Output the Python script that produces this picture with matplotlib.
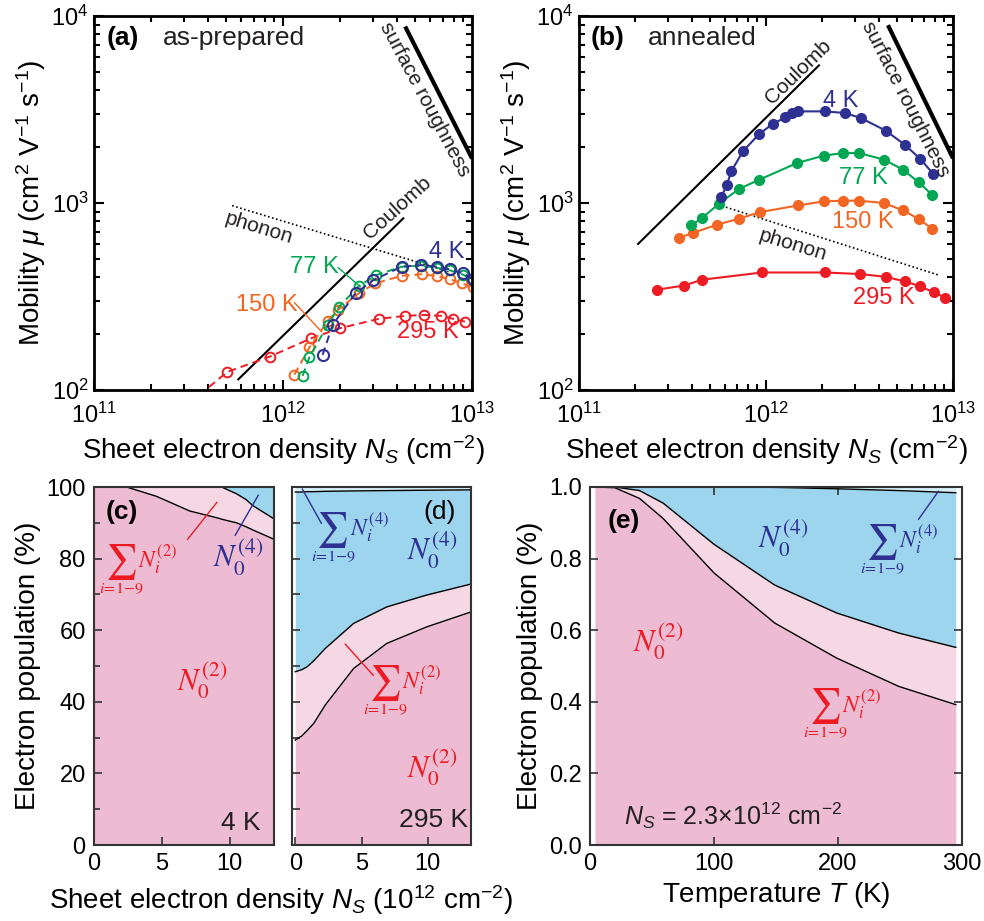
import matplotlib
matplotlib.use('Agg')
import matplotlib.pyplot as plt
import numpy as np
from matplotlib.ticker import LogLocator, MultipleLocator, NullFormatter, FixedLocator, FormatStrFormatter

plt.rcParams['font.family'] = ['Liberation Sans', 'DejaVu Sans']
plt.rcParams['mathtext.fontset'] = 'custom'
plt.rcParams['mathtext.rm'] = 'Liberation Sans'
plt.rcParams['mathtext.it'] = 'Liberation Sans:italic'
plt.rcParams['mathtext.bf'] = 'Liberation Sans:bold'

BLUE = '#2E3192'
GREEN = '#00A651'
ORANGE = '#F26522'
RED = '#ED1C24'
PINK_DARK = '#EDBCD2'
PINK_LIGHT = '#F6D8E4'
SKY = '#9DD5EE'

# ---- (a) as-prepared, mobility vs sheet density
a_n_4k = [1.62e12, 1.83e12, 2.42e12, 3.01e12, 4.24e12, 5.35e12, 6.56e12, 7.67e12, 8.96e12, 1.01e13]
a_mu_4k = [154, 223, 329, 387, 456, 466, 456, 441, 421, 391]
a_n_77k = [1.27e12, 1.38e12, 1.72e12, 1.97e12, 2.52e12, 3.12e12, 4.24e12, 5.35e12, 6.56e12, 7.67e12, 8.96e12, 1.01e13]
a_mu_77k = [119, 150, 222, 277, 360, 412, 456, 462, 450, 436, 414, 388]
a_n_150k = [1.15e12, 1.38e12, 1.73e12, 1.95e12, 2.52e12, 3.08e12, 4.24e12, 5.42e12, 6.56e12, 7.67e12, 8.85e12, 1.01e13]
a_mu_150k = [121, 169, 235, 268, 329, 372, 408, 416, 407, 391, 372, 354]
a_n_295k = [3.2e11, 5.07e11, 8.53e11, 1.41e12, 2.0e12, 3.21e12, 4.41e12, 5.57e12, 6.89e12, 7.98e12, 9.17e12]
a_mu_295k = [85, 125, 151, 189, 214, 240, 249, 252, 249, 240, 232]

a_phonon_n = [5.38e11, 7.51e12]
a_phonon_mu = [968, 430]
a_coulomb_n = [5.8e11, 4.33e12]
a_coulomb_mu = [114, 828]
a_rough_n = [4.48e12, 9.89e12]
a_rough_mu = [8590, 1770]

# ---- (b) annealed
b_n_4k = [5.76e11, 6.19e11, 6.51e11, 7.57e11, 9.21e11, 1.09e12, 1.27e12, 1.38e12, 1.49e12,
          2.06e12, 2.64e12, 3.21e12, 4.36e12, 5.52e12, 6.69e12, 7.82e12]
b_mu_4k = [1077, 1252, 1475, 1905, 2340, 2655, 2870, 3030, 3090,
           3090, 3030, 2850, 2440, 2050, 1720, 1435]
b_n_77k = [3.98e11, 4.56e11, 5.60e11, 7.16e11, 9.21e11, 1.47e12, 2.03e12, 2.58e12, 3.14e12,
           4.27e12, 5.41e12, 6.56e12, 7.73e12]
b_mu_77k = [759, 832, 991, 1188, 1333, 1637, 1791, 1850, 1850, 1707, 1507, 1289, 1107]
b_n_150k = [3.41e11, 4.07e11, 5.48e11, 7.16e11, 9.33e11, 1.49e12, 2.03e12, 2.58e12, 3.14e12,
            4.27e12, 5.41e12, 6.56e12, 7.73e12]
b_mu_150k = [650, 692, 766, 824, 895, 971, 1020, 1029, 1029, 1000, 913, 821, 729]
b_n_295k = [2.62e11, 3.65e11, 4.56e11, 9.53e11, 2.06e12, 3.18e12, 4.36e12, 5.52e12, 6.69e12,
            7.89e12, 9.1e12]
b_mu_295k = [344, 362, 389, 425, 425, 417, 403, 381, 358, 333, 311]

b_phonon_n = [5.53e11, 8.49e12]
b_phonon_mu = [980, 410]
b_coulomb_n = [2.07e11, 1.92e12]
b_coulomb_mu = [604, 5445]
b_rough_n = [4.54e12, 9.89e12]
b_rough_mu = [8730, 1774]

# ---- (c) population at 4 K vs N_S (1e12 cm^-2), in %
c_ns = [0, 2.4, 4.6, 7.05, 9.26, 9.4, 10.5, 11.2, 11.7, 13.26]
c_n0_2 = [100, 100, 97.4, 93.3, 91.2, 91.0, 90.0, 88.9, 88.0, 85.4]
c_sum_2 = [100, 100, 100, 100, 100, 100, 98.1, 96.5, 94.8, 91.1]

# ---- (d) population at 295 K
d_ns = [0, 0.5, 0.9, 1.4, 2.26, 4.4, 6.9, 9.9, 13.26]
d_n0_2 = [29.3, 30.5, 32.0, 34.0, 39.1, 49.3, 56.3, 60.9, 65.1]
d_sum_2 = [48.4, 49.0, 49.8, 51.5, 54.9, 61.9, 66.5, 69.8, 72.9]
d_n0_4 = [98.6, 98.6, 98.7, 98.7, 98.8, 98.9, 99.0, 99.1, 99.2]

# ---- (e) population vs temperature at N_S = 2.3e12 cm^-2
e_t = [4, 20, 40, 59, 100, 149, 199, 249, 295]
e_n0_2 = [1.0, 0.998, 0.968, 0.912, 0.76, 0.62, 0.522, 0.443, 0.392]
e_sum_2 = [1.0, 1.0, 0.99, 0.955, 0.84, 0.726, 0.648, 0.592, 0.552]
e_n0_4 = [1.0, 1.0, 1.0, 1.0, 1.0, 0.999, 0.995, 0.99, 0.984]

TICK_FS = 17
LABEL_FS = 20
ANNOT_FS = 15
N_FS = 22


def style_log_axes(ax):
    ax.set_xscale('log')
    ax.set_yscale('log')
    ax.set_xlim(1e11, 1e13)
    ax.set_ylim(1e2, 1e4)
    ax.xaxis.set_major_locator(LogLocator(base=10, numticks=5))
    ax.yaxis.set_major_locator(LogLocator(base=10, numticks=5))
    ax.xaxis.set_minor_locator(LogLocator(base=10, subs=np.arange(2, 10), numticks=20))
    ax.yaxis.set_minor_locator(LogLocator(base=10, subs=np.arange(2, 10), numticks=20))
    ax.xaxis.set_minor_formatter(NullFormatter())
    ax.yaxis.set_minor_formatter(NullFormatter())
    ax.tick_params(which='both', direction='in', top=True, right=True, labelsize=TICK_FS, width=1.5)
    ax.tick_params(which='major', length=7)
    ax.tick_params(axis='x', which='major', pad=9)
    ax.tick_params(axis='y', which='major', pad=4)
    ax.tick_params(which='minor', length=4)
    for s in ax.spines.values():
        s.set_linewidth(2)
    ax.set_xlabel(r'Sheet electron density $N_S$ (cm$^{-2}$)', fontsize=LABEL_FS, labelpad=4)
    ax.set_ylabel(r'Mobility $\mu$ (cm$^{2}$ V$^{-1}$ s$^{-1}$)', fontsize=LABEL_FS, labelpad=2)


def style_pop_axes(ax):
    ax.tick_params(which='both', direction='in', labelsize=TICK_FS, width=1.2, color='#333333')
    ax.tick_params(which='major', length=6, pad=6)
    ax.tick_params(which='minor', length=4)
    for s in ax.spines.values():
        s.set_linewidth(1.5)
        s.set_color('#333333')


def sum_label(ax, x, y, level, color):
    # big summation sign with N_i^(level) to the right and the index range underneath
    ax.text(x, y, '\u2211', fontsize=25, family='STIXGeneral', color=color, ha='center', va='center')
    ax.annotate(r'$N_i^{(%d)}$' % level, (x, y), xytext=(12, 2), textcoords='offset points',
                fontsize=17, color=color, ha='left', va='center', math_fontfamily='stix')
    ax.annotate(r'$i\!=\!1\!-\!9$', (x, y), xytext=(0, -19), textcoords='offset points',
                fontsize=11.5, color=color, ha='center', va='center', math_fontfamily='stix')


fig = plt.figure(figsize=(9.84, 9.21), dpi=100)

ax_a = fig.add_axes([94 / 984, 1 - 390 / 921, 378 / 984, 374 / 921])
ax_b = fig.add_axes([579 / 984, 1 - 390 / 921, 374 / 984, 374 / 921])
ax_c = fig.add_axes([94 / 984, 1 - 845 / 921, 180 / 984, 358 / 921])
ax_d = fig.add_axes([292 / 984, 1 - 845 / 921, 179 / 984, 358 / 921])
ax_e = fig.add_axes([590 / 984, 1 - 845 / 921, 372 / 984, 358 / 921])

# ---------------- (a)
ax = ax_a
style_log_axes(ax)
ax.plot(a_phonon_n, a_phonon_mu, color='black', lw=1.2, ls=(0, (1, 1.5)))
ax.plot(a_coulomb_n, a_coulomb_mu, color='black', lw=1.5)
ax.plot(a_rough_n, a_rough_mu, color='black', lw=3)
mk = dict(marker='o', mfc='none', ms=7, mew=1.4, lw=1.4, ls=(0, (4, 2.5)))
ax.plot(a_n_295k, a_mu_295k, color=RED, **mk)
ax.plot(a_n_150k, a_mu_150k, color=ORANGE, **mk)
ax.plot(a_n_77k, a_mu_77k, color=GREEN, **mk)
ax.plot(a_n_4k, a_mu_4k, color=BLUE, marker='o', mfc='none', ms=8, mew=1.5, lw=1.4, ls=(0, (4, 2.5)))
ax.plot([1.96e12, 2.56e12], [451, 357], color=GREEN, lw=1)
ax.plot([1.15e12, 1.60e12], [293, 205], color=ORANGE, lw=1)
ax.text(0.077, 0.941, '(a)', transform=ax.transAxes, fontsize=19, fontweight='bold', ha='center', va='center')
ax.text(0.183, 0.941, 'as-prepared', transform=ax.transAxes, fontsize=19, ha='left', va='center', color='#231F20')
ax.text(7.47e11, 738, 'phonon', fontsize=ANNOT_FS, rotation=-17, ha='center', va='center', color='#231F20')
ax.text(4.03e12, 944, 'Coulomb', fontsize=ANNOT_FS, rotation=42, ha='center', va='center', color='#231F20')
ax.text(5.64e12, 3565, 'surface roughness', fontsize=ANNOT_FS, rotation=-62, ha='center', va='center', color='#231F20')
ax.text(7.38e12, 549, '4 K', fontsize=ANNOT_FS + 2, color=BLUE, ha='center', va='center')
ax.text(1.47e12, 457, '77 K', fontsize=ANNOT_FS + 2, color=GREEN, ha='center', va='center')
ax.text(8.18e11, 286, '150 K', fontsize=ANNOT_FS + 2, color=ORANGE, ha='center', va='center')
ax.text(5.84e12, 203, '295 K', fontsize=ANNOT_FS + 2, color=RED, ha='center', va='center')

# ---------------- (b)
ax = ax_b
style_log_axes(ax)
ax.plot(b_phonon_n, b_phonon_mu, color='black', lw=1.2, ls=(0, (1, 1.5)))
ax.plot(b_coulomb_n, b_coulomb_mu, color='black', lw=1.5)
ax.plot(b_rough_n, b_rough_mu, color='black', lw=3)
mk = dict(marker='o', ms=7, lw=1.5)
ax.plot(b_n_295k, b_mu_295k, color=RED, **mk)
ax.plot(b_n_150k, b_mu_150k, color=ORANGE, **mk)
ax.plot(b_n_77k, b_mu_77k, color=GREEN, **mk)
ax.plot(b_n_4k, b_mu_4k, color=BLUE, **mk)
ax.text(0.077, 0.941, '(b)', transform=ax.transAxes, fontsize=19, fontweight='bold', ha='center', va='center')
ax.text(0.183, 0.941, 'annealed', transform=ax.transAxes, fontsize=19, ha='left', va='center', color='#231F20')
ax.text(1.48e12, 5035, 'Coulomb', fontsize=ANNOT_FS, rotation=44, ha='center', va='center', color='#231F20')
ax.text(5.57e12, 3580, 'surface roughness', fontsize=ANNOT_FS, rotation=-63, ha='center', va='center', color='#231F20')
ax.text(1.39e12, 598, 'phonon', fontsize=ANNOT_FS, rotation=-17, ha='center', va='center', color='#231F20')
ax.text(2.51e12, 3530, '4 K', fontsize=ANNOT_FS + 2, color=BLUE, ha='center', va='center')
ax.text(3.33e12, 1361, '77 K', fontsize=ANNOT_FS + 2, color=GREEN, ha='center', va='center')
ax.text(3.29e12, 794, '150 K', fontsize=ANNOT_FS + 2, color=ORANGE, ha='center', va='center')
ax.text(4.26e12, 312, '295 K', fontsize=ANNOT_FS + 2, color=RED, ha='center', va='center')

# ---------------- (c)
ax = ax_c
style_pop_axes(ax)
ax.fill_between(c_ns, 0, c_n0_2, color=PINK_DARK, lw=0)
ax.fill_between(c_ns, c_n0_2, c_sum_2, color=PINK_LIGHT, lw=0)
ax.fill_between(c_ns, c_sum_2, 100, color=SKY, lw=0)
ax.plot(c_ns, c_n0_2, color='black', lw=1)
ax.plot(c_ns, c_sum_2, color='black', lw=1)
ax.set_xlim(0, 13.26)
ax.set_ylim(0, 100)
ax.xaxis.set_major_locator(FixedLocator([0, 5, 10]))
ax.yaxis.set_major_locator(MultipleLocator(20))
ax.yaxis.set_minor_locator(MultipleLocator(10))
ax.plot([6.9, 9.05], [85.4, 95.7], color=RED, lw=1)
ax.plot([10.4, 12.1], [86.5, 97.7], color=BLUE, lw=1)
ax.text(0.156, 0.930, '(c)', transform=ax.transAxes, fontsize=19, fontweight='bold', ha='center', va='center')
ax.text(0.817, 0.061, '4 K', transform=ax.transAxes, fontsize=19, ha='center', va='center', color='#231F20')
sum_label(ax, 2.04, 79.0, 2, RED)
ax.text(10.6, 80.4, r'$N_0^{(4)}$', fontsize=N_FS, color=BLUE, ha='center', va='center', math_fontfamily='stix')
ax.text(8.0, 46, r'$N_0^{(2)}$', fontsize=N_FS, color=RED, ha='center', va='center', math_fontfamily='stix')

# ---------------- (d)
ax = ax_d
style_pop_axes(ax)
ax.fill_between(d_ns, 0, d_n0_2, color=PINK_DARK, lw=0)
ax.fill_between(d_ns, d_n0_2, d_sum_2, color=PINK_LIGHT, lw=0)
ax.fill_between(d_ns, d_sum_2, d_n0_4, color=SKY, lw=0)
ax.fill_between(d_ns, d_n0_4, 100, color='#D6EEF8', lw=0)
ax.plot(d_ns, d_n0_2, color='black', lw=1)
ax.plot(d_ns, d_sum_2, color='black', lw=1)
ax.plot(d_ns, d_n0_4, color='black', lw=1)
ax.set_xlim(-0.25, 13.26)
ax.set_ylim(0, 100)
ax.xaxis.set_major_locator(FixedLocator([0, 5, 10]))
ax.yaxis.set_major_locator(MultipleLocator(10))
ax.set_yticklabels([])
ax.plot([0.53, 1.96], [99.4, 89.9], color=BLUE, lw=1)
ax.plot([3.77, 5.88], [56.1, 47.4], color=RED, lw=1)
ax.text(10.85, 92.9, '(d)', fontsize=19, ha='center', va='center')
ax.text(10.4, 7, '295 K', fontsize=19, ha='center', va='center', color='#231F20')
sum_label(ax, 2.86, 87.9, 4, BLUE)
ax.text(10.3, 82.3, r'$N_0^{(4)}$', fontsize=N_FS, color=BLUE, ha='center', va='center', math_fontfamily='stix')
sum_label(ax, 6.8, 45.2, 2, RED)
ax.text(10.3, 21.5, r'$N_0^{(2)}$', fontsize=N_FS, color=RED, ha='center', va='center', math_fontfamily='stix')

# ---------------- (e)
ax = ax_e
style_pop_axes(ax)
ax.tick_params(which='both', top=True, right=True)
ax.fill_between(e_t, 0, e_n0_2, color=PINK_DARK, lw=0)
ax.fill_between(e_t, e_n0_2, e_sum_2, color=PINK_LIGHT, lw=0)
ax.fill_between(e_t, e_sum_2, e_n0_4, color=SKY, lw=0)
ax.fill_between(e_t, e_n0_4, 1.0, color='#D6EEF8', lw=0)
ax.plot(e_t, e_n0_2, color='black', lw=1)
ax.plot(e_t, e_sum_2, color='black', lw=1)
ax.plot(e_t, e_n0_4, color='black', lw=1)
ax.set_xlim(0, 300)
ax.set_ylim(0, 1.0)
ax.xaxis.set_major_locator(MultipleLocator(100))
ax.yaxis.set_major_locator(MultipleLocator(0.2))
ax.yaxis.set_major_formatter(FormatStrFormatter('%.1f'))
ax.plot([265, 281], [0.91, 0.988], color=BLUE, lw=1)
ax.text(27, 0.905, '(e)', fontsize=19, fontweight='bold', ha='center', va='center')
ax.text(156, 0.857, r'$N_0^{(4)}$', fontsize=N_FS, color=BLUE, ha='center', va='center', math_fontfamily='stix')
sum_label(ax, 236, 0.846, 4, BLUE)
ax.text(55, 0.568, r'$N_0^{(2)}$', fontsize=N_FS, color=RED, ha='center', va='center', math_fontfamily='stix')
sum_label(ax, 190, 0.387, 2, RED)
ax.text(115, 0.081, r'$N_S$ = 2.3$\times$10$^{12}$ cm$^{-2}$', fontsize=18, ha='center', va='center', color='#231F20')
ax.set_ylabel('Electron population (%)', fontsize=LABEL_FS, labelpad=4)

ax_c.set_ylabel('Electron population (%)', fontsize=LABEL_FS, labelpad=4)
fig.text(281 / 984, 1 - 900 / 921, r'Sheet electron density $N_S$ (10$^{12}$ cm$^{-2}$)',
         fontsize=LABEL_FS, ha='center', va='center')
fig.text(776 / 984, 1 - 895 / 921, r'Temperature $T$ (K)', fontsize=LABEL_FS, ha='center', va='center')

fig.savefig('out.png', dpi=100)
